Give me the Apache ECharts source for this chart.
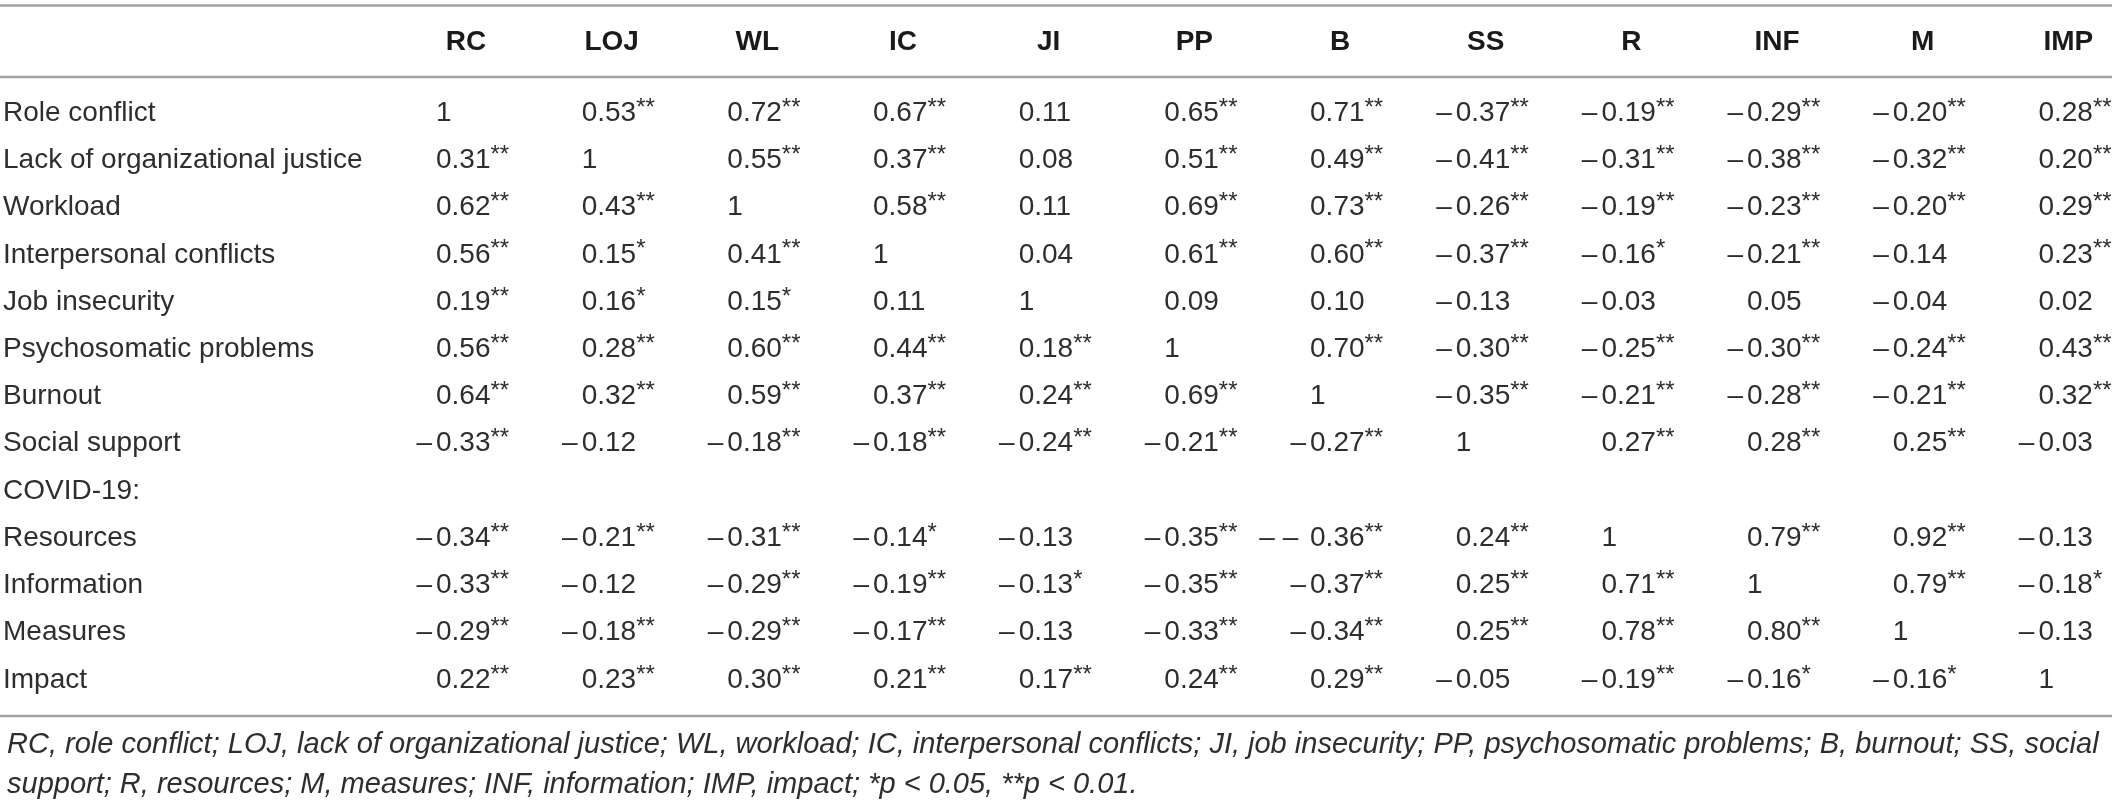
<!DOCTYPE html>
<html><head><meta charset="utf-8">
<script src="https://cdn.jsdelivr.net/npm/echarts@6/dist/echarts.min.js"></script>
<style>html,body{margin:0;padding:0;background:#fff}#c{width:2120px;height:802px}</style>
</head><body><div id="c"></div>
<script>
// ---- data ----
const columns = ['RC', 'LOJ', 'WL', 'IC', 'JI', 'PP', 'B', 'SS', 'R', 'INF', 'M', 'IMP'];
const rowLabels = ['Role conflict', 'Lack of organizational justice', 'Workload', 'Interpersonal conflicts',
  'Job insecurity', 'Psychosomatic problems', 'Burnout', 'Social support', 'COVID-19:',
  'Resources', 'Information', 'Measures', 'Impact'];

const roleConflict   = ['1', '0.53**', '0.72**', '0.67**', '0.11', '0.65**', '0.71**', '–0.37**', '–0.19**', '–0.29**', '–0.20**', '0.28**'];
const lackOfJustice  = ['0.31**', '1', '0.55**', '0.37**', '0.08', '0.51**', '0.49**', '–0.41**', '–0.31**', '–0.38**', '–0.32**', '0.20**'];
const workload       = ['0.62**', '0.43**', '1', '0.58**', '0.11', '0.69**', '0.73**', '–0.26**', '–0.19**', '–0.23**', '–0.20**', '0.29**'];
const interpersonal  = ['0.56**', '0.15*', '0.41**', '1', '0.04', '0.61**', '0.60**', '–0.37**', '–0.16*', '–0.21**', '–0.14', '0.23**'];
const jobInsecurity  = ['0.19**', '0.16*', '0.15*', '0.11', '1', '0.09', '0.10', '–0.13', '–0.03', '0.05', '–0.04', '0.02'];
const psychosomatic  = ['0.56**', '0.28**', '0.60**', '0.44**', '0.18**', '1', '0.70**', '–0.30**', '–0.25**', '–0.30**', '–0.24**', '0.43**'];
const burnout        = ['0.64**', '0.32**', '0.59**', '0.37**', '0.24**', '0.69**', '1', '–0.35**', '–0.21**', '–0.28**', '–0.21**', '0.32**'];
const socialSupport  = ['–0.33**', '–0.12', '–0.18**', '–0.18**', '–0.24**', '–0.21**', '–0.27**', '1', '0.27**', '0.28**', '0.25**', '–0.03'];
const covidHeading   = [];
const resources      = ['–0.34**', '–0.21**', '–0.31**', '–0.14*', '–0.13', '–0.35**', '– – 0.36**', '0.24**', '1', '0.79**', '0.92**', '–0.13'];
const information    = ['–0.33**', '–0.12', '–0.29**', '–0.19**', '–0.13*', '–0.35**', '–0.37**', '0.25**', '0.71**', '1', '0.79**', '–0.18*'];
const measures       = ['–0.29**', '–0.18**', '–0.29**', '–0.17**', '–0.13', '–0.33**', '–0.34**', '0.25**', '0.78**', '0.80**', '1', '–0.13'];
const impact         = ['0.22**', '0.23**', '0.30**', '0.21**', '0.17**', '0.24**', '0.29**', '–0.05', '–0.19**', '–0.16*', '–0.16*', '1'];

const rowValues = [roleConflict, lackOfJustice, workload, interpersonal, jobInsecurity, psychosomatic,
  burnout, socialSupport, covidHeading, resources, information, measures, impact];

const footnoteLines = [
  'RC, role conflict; LOJ, lack of organizational justice; WL, workload; IC, interpersonal conflicts; JI, job insecurity; PP, psychosomatic problems; B, burnout; SS, social',
  'support; R, resources; M, measures; INF, information; IMP, impact; *p < 0.05, **p < 0.01.'
];

// ---- build ----
const FONT = '"Liberation Sans", "Helvetica Neue", Helvetica, Arial, sans-serif';
const TEXT = '#2e2e2e';
const HEAD = '#1a1a1a';
const RULE = '#a3a3a3';
const cells = [];
const cellTexts = [];
rowValues.forEach((arr, ri) => arr.forEach((t, ci) => { cells.push([ci, ri]); cellTexts.push(t); }));

const chart = echarts.init(document.getElementById('c'), null, { renderer: 'canvas' });
const gridTop = 89.5, gridBottom = 98.5, gridLeft = 466, gridRight = 51.6;

chart.setOption({
  animation: false,
  backgroundColor: '#fff',
  title: {
    text: footnoteLines.join('\n'),
    left: 2, top: 720,
    textStyle: { fontFamily: FONT, fontStyle: 'italic', fontWeight: 'normal', fontSize: 29, lineHeight: 40, color: TEXT }
  },
  grid: { left: gridLeft, right: gridRight, top: gridTop, bottom: gridBottom },
  xAxis: {
    type: 'value', position: 'top', min: 0, max: 11, interval: 1,
    axisLine: { show: false }, axisTick: { show: false }, splitLine: { show: false },
    axisLabel: {
      formatter: v => columns[v] || '', margin: gridTop - 42, verticalAlign: 'middle',
      fontFamily: FONT, fontWeight: 'bold', fontSize: 28, color: HEAD
    }
  },
  yAxis: {
    type: 'category', inverse: true, data: rowLabels,
    axisLine: { show: false }, axisTick: { show: false }, splitLine: { show: false },
    axisLabel: {
      interval: 0, align: 'left', margin: gridLeft - 3,
      fontFamily: FONT, fontSize: 28, color: TEXT
    }
  },
  graphic: [
    { type: 'line', shape: { x1: 0, y1: 5.5, x2: 2112, y2: 5.5 }, style: { stroke: RULE, lineWidth: 2.5 } },
    { type: 'line', shape: { x1: 0, y1: 77, x2: 2112, y2: 77 }, style: { stroke: RULE, lineWidth: 2.5 } },
    { type: 'line', shape: { x1: 0, y1: 716, x2: 2112, y2: 716 }, style: { stroke: RULE, lineWidth: 2.5 } }
  ],
  series: [{
    type: 'custom',
    coordinateSystem: 'cartesian2d',
    data: cells,
    encode: { x: 0, y: 1 },
    renderItem: function (params, api) {
      const pt = api.coord([api.value(0), api.value(1)]);
      const x = pt[0] - 30, y = pt[1];
      const t = cellTexts[params.dataIndex];
      const m = t.match(/^(.*?)(\d[\d.]*)(\**)$/);
      const prefix = m[1], num = m[2], stars = m[3];
      const children = [];
      if (prefix) {
        children.push({
          type: 'text',
          style: { text: prefix, x: x - 4, y: y, align: 'right', verticalAlign: 'middle',
                   fontFamily: FONT, fontSize: 28, fill: TEXT }
        });
      }
      children.push({
        type: 'text',
        style: {
          text: '{n|' + num + '}' + (stars ? '{s|' + stars + '}' : ''),
          x: x, y: y, align: 'left', verticalAlign: 'middle',
          rich: {
            n: { fontFamily: FONT, fontSize: 28, lineHeight: 34, fill: TEXT },
            s: { fontFamily: FONT, fontSize: 24, lineHeight: 29, verticalAlign: 'top', fill: TEXT }
          }
        }
      });
      return { type: 'group', children: children };
    }
  }]
});
</script>
</body></html>
